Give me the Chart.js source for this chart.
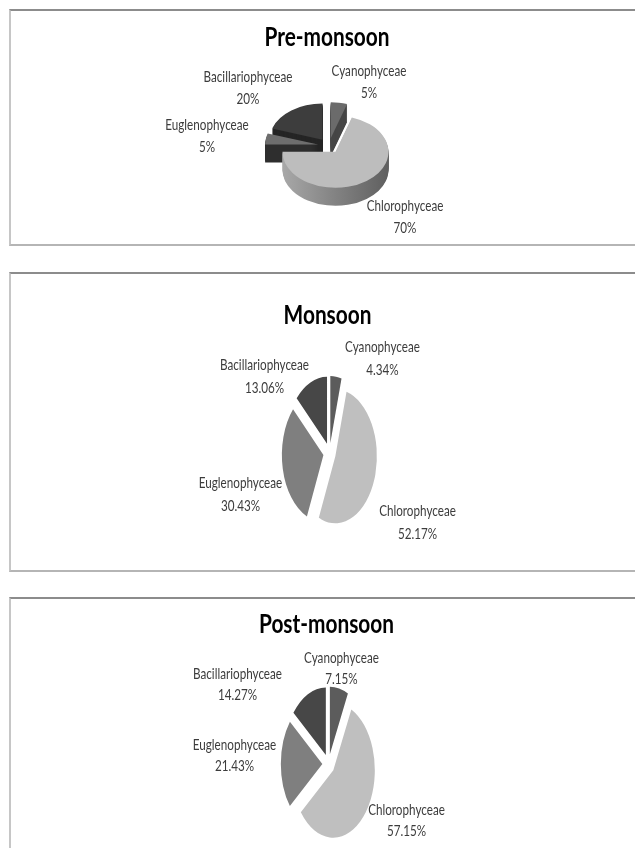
<!DOCTYPE html>
<html><head><meta charset="utf-8">
<script src="https://cdn.jsdelivr.net/npm/chart.js@4.4.0/dist/chart.umd.min.js"></script>
<style>
html,body{margin:0;padding:0;background:#fff;width:635px;height:848px;overflow:hidden;position:relative;}
.panel{position:absolute;left:9px;width:700px;box-sizing:border-box;border-top:2px solid #8c8c8c;border-left:2px solid #c6c6c6;border-bottom:2px solid #b5b5b5;}
canvas{position:absolute;left:0;}
</style></head><body>
<div class="panel" style="top:9px;height:237px"></div>
<div class="panel" style="top:272px;height:300px"></div>
<div class="panel" style="top:597px;height:262px"></div>
<canvas id="c1" width="635" height="234" style="top:10px;width:635px;height:234px"></canvas>
<canvas id="c2" width="635" height="297" style="top:273px;width:635px;height:297px"></canvas>
<canvas id="c3" width="635" height="250" style="top:598px;width:635px;height:250px"></canvas>
<script>
// ---- data ----
const categories = ['Cyanophyceae', 'Chlorophyceae', 'Euglenophyceae', 'Bacillariophyceae'];
const preMonsoon = [5, 70, 5, 20];
const monsoon = [4.34, 52.17, 30.43, 13.06];
const postMonsoon = [7.15, 57.15, 21.43, 14.27];
const titles = ['Pre-monsoon', 'Monsoon', 'Post-monsoon'];

// ---- styles / layout ----
const FONT = "Lato, 'Liberation Sans', sans-serif";
const TITLE_FONT = 'bold 27px ' + FONT;
const LABEL_FONT = '16px ' + FONT;
const TITLE_REF = ['Post-monsoon', 135];      // reference text width (px) used to condense the font
const LABEL_REF = ['Bacillariophyceae', 89];
const flatColors = ['#5c5c5c', '#bfbfbf', '#7f7f7f', '#474747'];
const preColors = ['#6b6b6b', '#bdbdbd', '#6e6e6e', '#3d3d3d'];
const preSide = ['#474747', null, '#2e2e2e', '#252525'];

const panels = [
  {id: 'c1', title: titles[0], values: preMonsoon, colors: preColors, side: preSide,
   radius: 53, explode: 11, sx: 1, sy: 0.68, depth: 18, titleY: 27,
   pad: {left: 23, right: 0, top: 41.4, bottom: 4},
   labelPos: [[40, -64], [76, 71], [-122, -10], [-81, -58]], lineGap: 22},
  {id: 'c2', title: titles[1], values: monsoon, colors: flatColors, side: null,
   radius: 67, explode: 10, sx: 0.62, sy: 1, depth: 0, titleY: 42,
   pad: {left: 24, right: 0, top: 63, bottom: 0},
   labelPos: [[53, -95], [88, 69], [-89, 41], [-65, -77]], lineGap: 23},
  {id: 'c3', title: titles[2], values: postMonsoon, colors: flatColors, side: null,
   radius: 67.5, explode: 10, sx: 0.615, sy: 1, depth: 0, titleY: 26,
   pad: {left: 22, right: 0, top: 82, bottom: 0},
   labelPos: [[13, -96], [78, 56], [-94, -9], [-91, -80]], lineGap: 21}
];

function condensedText(ctx, text, x, y, k) {
  ctx.save();
  ctx.translate(x, y);
  ctx.scale(k, 1);
  ctx.fillText(text, 0, 0);
  ctx.restore();
}

// draws the library's arc elements: squashed/stretched, exploded, with optional 3-D depth
const pieShape = {
  id: 'pieShape',
  beforeDatasetsDraw(chart, args, o) {
    const meta = chart.getDatasetMeta(0);
    const a0 = meta.data[0];
    const cx = a0.x, cy = a0.y;
    const ctx = chart.ctx;
    ctx.save();
    ctx.translate(cx, cy); ctx.scale(o.sx, o.sy); ctx.translate(-cx, -cy);
    const drawArc = (arc, fill) => {
      const mid = (arc.startAngle + arc.endAngle) / 2;
      const orig = arc.options;
      ctx.save();
      ctx.translate(Math.cos(mid) * o.explode, Math.sin(mid) * o.explode);
      if (fill) arc.options = Object.assign({}, orig, {backgroundColor: fill});
      arc.draw(ctx);
      arc.options = orig;
      ctx.restore();
    };
    if (o.depth) {
      const r = a0.outerRadius;
      const grad = ctx.createLinearGradient(cx - r, 0, cx + r, 0);
      grad.addColorStop(0, '#a8a8a8');
      grad.addColorStop(0.45, '#868686');
      grad.addColorStop(1, '#5f5f5f');
      for (let d = o.depth; d >= 1; d--) {
        ctx.save();
        ctx.translate(0, d / o.sy);
        meta.data.forEach((arc, i) => drawArc(arc, o.side[i] || grad));
        ctx.restore();
      }
    }
    meta.data.forEach(arc => drawArc(arc, null));
    ctx.restore();
    return false;
  }
};

const texts = {
  id: 'texts',
  afterDraw(chart, args, o) {
    const meta = chart.getDatasetMeta(0);
    const a0 = meta.data[0];
    const ctx = chart.ctx;
    const vals = chart.data.datasets[0].data;
    ctx.save();
    ctx.textAlign = 'center';
    ctx.textBaseline = 'middle';
    // title
    ctx.font = TITLE_FONT;
    ctx.fillStyle = '#000';
    const kt = TITLE_REF[1] / ctx.measureText(TITLE_REF[0]).width;
    condensedText(ctx, o.title, (chart.chartArea.left + chart.chartArea.right) / 2 - 2, o.titleY, kt);
    // slice labels
    ctx.font = LABEL_FONT;
    ctx.fillStyle = '#3c3c3c';
    const kl = LABEL_REF[1] / ctx.measureText(LABEL_REF[0]).width;
    chart.data.labels.forEach((name, i) => {
      const x = a0.x + o.pos[i][0];
      const y = a0.y + o.pos[i][1];
      condensedText(ctx, name, x, y - o.gap / 2, kl);
      condensedText(ctx, vals[i] + '%', x, y + o.gap / 2, kl);
    });
    ctx.restore();
  }
};

panels.forEach(p => {
  new Chart(document.getElementById(p.id), {
    type: 'pie',
    data: {
      labels: categories,
      datasets: [{data: p.values, backgroundColor: p.colors, borderWidth: 0}]
    },
    options: {
      responsive: false,
      animation: false,
      events: [],
      radius: p.radius,
      layout: {padding: p.pad},
      plugins: {
        legend: {display: false},
        tooltip: {enabled: false},
        title: {display: false},
        pieShape: {sx: p.sx, sy: p.sy, depth: p.depth, side: p.side, explode: p.explode},
        texts: {title: p.title, titleY: p.titleY, pos: p.labelPos, gap: p.lineGap}
      }
    },
    plugins: [pieShape, texts]
  });
});
</script>
</body></html>
